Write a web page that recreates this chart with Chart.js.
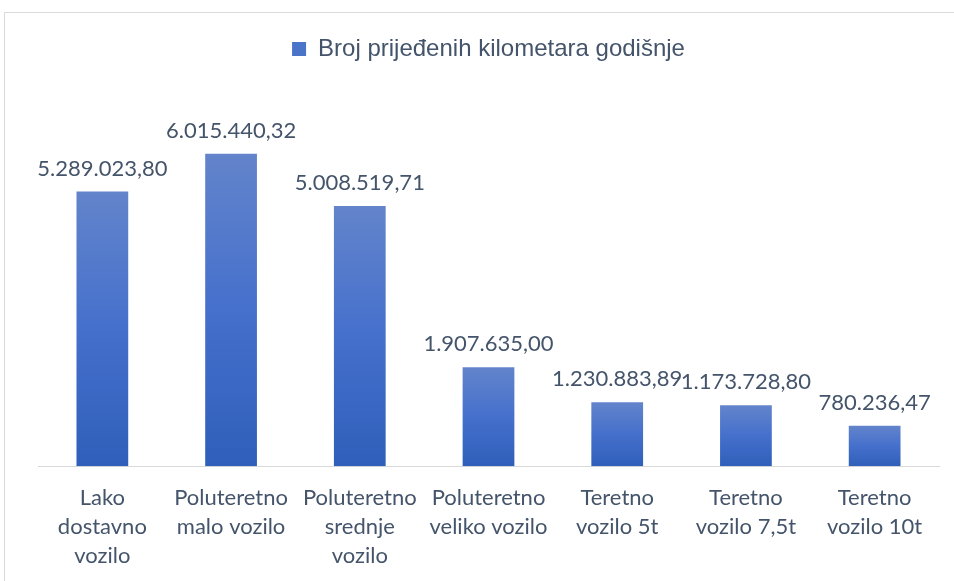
<!DOCTYPE html>
<html>
<head>
<meta charset="utf-8">
<script src="https://cdn.jsdelivr.net/npm/chart.js@4.4.0/dist/chart.umd.min.js"></script>
<style>
body { margin: 0; background: #fff; overflow: hidden; }
#frame {
    position: absolute;
    left: 4px;
    top: 12px;
    width: 1200px;
    height: 800px;
    border: 1px solid #d9d9d9;
}
#wrap {
    position: absolute;
    left: 0;
    top: 0;
    width: 954px;
    height: 581px;
}
</style>
</head>
<body>
<div id="frame"></div>
<div id="wrap"><canvas id="myChart"></canvas></div>

<script>
// data
var categories = [
    ["Lako", "dostavno", "vozilo"],
    ["Poluteretno", "malo vozilo"],
    ["Poluteretno", "srednje", "vozilo"],
    ["Poluteretno", "veliko vozilo"],
    ["Teretno", "vozilo 5t"],
    ["Teretno", "vozilo 7,5t"],
    ["Teretno", "vozilo 10t"]
];
var kmValues = [5289023.80, 6015440.32, 5008519.71, 1907635.00, 1230883.89, 1173728.80, 780236.47];
var seriesName = "Broj prijeđenih kilometara godišnje";

var textColor = "#44546a";

function fmt(v) {
    // 5.289.023,80 style
    var parts = v.toFixed(2).split(".");
    var whole = parts[0].replace(/\B(?=(\d{3})+(?!\d))/g, ".");
    return whole + "," + parts[1];
}

function barFill(context) {
    var chart = context.chart;
    if (!chart.chartArea || context.dataIndex === undefined) return "#4472c4";
    var y = chart.scales.y;
    var top = y.getPixelForValue(context.raw);
    var bottom = y.getPixelForValue(0);
    var g = chart.ctx.createLinearGradient(0, top, 0, bottom);
    g.addColorStop(0, "#6384cb");
    g.addColorStop(0.5, "#4570cc");
    g.addColorStop(1, "#2f5fba");
    return g;
}

// values above each bar
var valueLabels = {
    id: "valueLabels",
    afterDatasetsDraw: function(chart) {
        var ctx = chart.ctx;
        var meta = chart.getDatasetMeta(0);
        ctx.save();
        ctx.font = "22px Lato";
        ctx.fillStyle = textColor;
        ctx.textAlign = "center";
        ctx.textBaseline = "alphabetic";
        meta.data.forEach(function(bar, i) {
            ctx.fillText(fmt(kmValues[i]), bar.x, bar.y - 16);
        });
        ctx.restore();
    }
};

new Chart("myChart", {
    type: "bar",
    data: {
        labels: categories,
        datasets: [{
            label: seriesName,
            data: kmValues,
            backgroundColor: barFill,
            barPercentage: 0.6,
            categoryPercentage: 0.67
        }]
    },
    options: {
        responsive: true,
        maintainAspectRatio: false,
        animation: false,
        layout: { padding: { left: 38, right: 15, top: 27, bottom: -7 } },
        plugins: {
            tooltip: { enabled: false },
            legend: {
                display: true,
                position: "top",
                labels: {
                    color: textColor,
                    font: { family: "Liberation Sans", size: 24 },
                    boxWidth: 14,
                    boxHeight: 14,
                    padding: 10,
                    generateLabels: function() {
                        return [{
                            text: seriesName,
                            fillStyle: "#4a74c8",
                            strokeStyle: "#4a74c8",
                            lineWidth: 0,
                            fontColor: textColor,
                            datasetIndex: 0
                        }];
                    }
                }
            }
        },
        scales: {
            x: {
                grid: { display: false, drawTicks: false },
                border: { display: true, color: "#d9d9d9", width: 1 },
                ticks: {
                    color: textColor,
                    font: { family: "Lato", size: 22, lineHeight: 1.33 },
                    padding: 17,
                    maxRotation: 0,
                    autoSkip: false
                }
            },
            y: {
                display: false,
                min: 0,
                max: 7610000
            }
        }
    },
    plugins: [valueLabels]
});
</script>
</body>
</html>
